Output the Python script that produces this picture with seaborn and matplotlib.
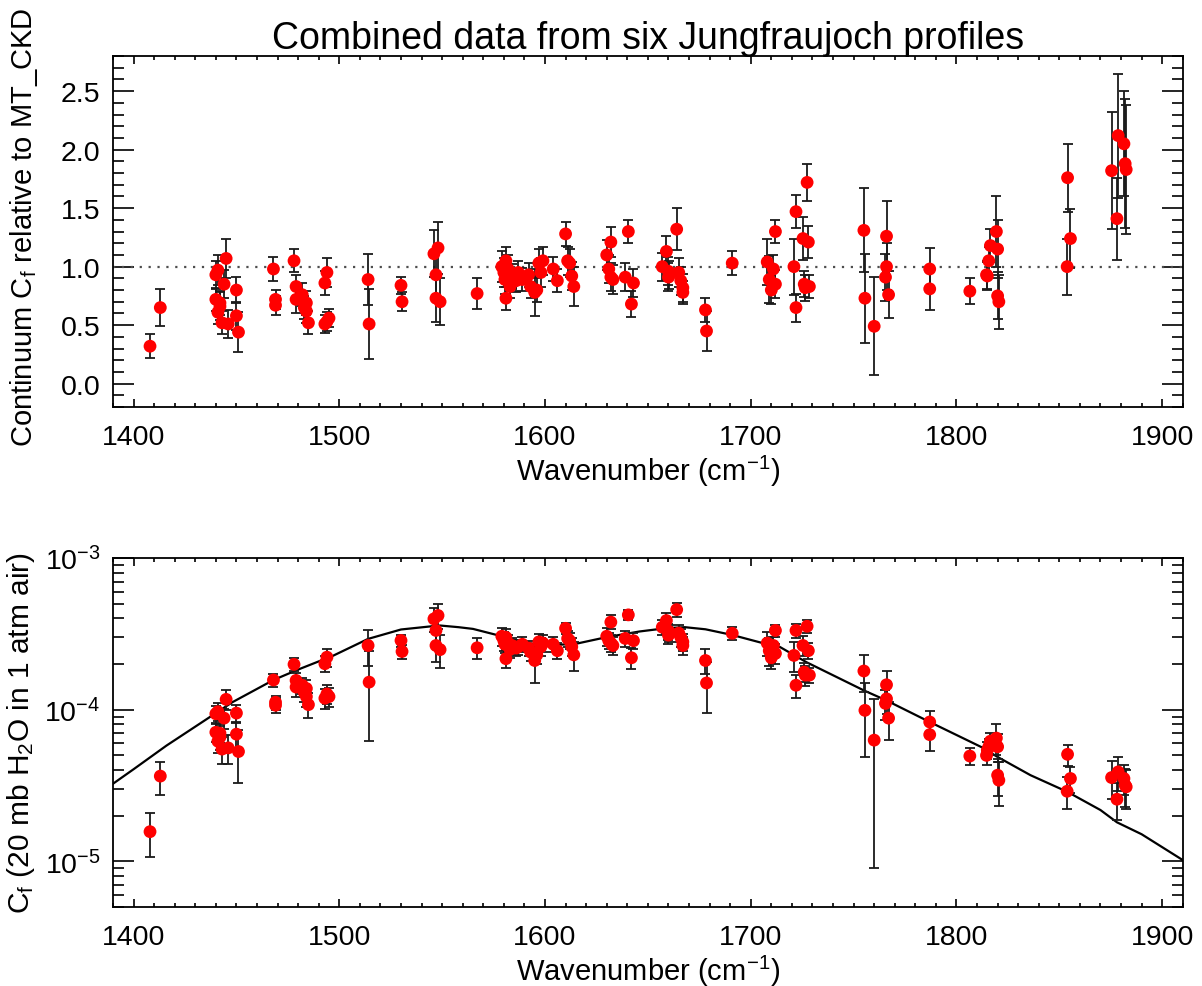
import numpy as np
import pandas as pd
import matplotlib
matplotlib.use("Agg")
import matplotlib.pyplot as plt
import matplotlib.ticker as mticker
import seaborn as sns

# wavenumber of each retrieval (cm-1)
wavenumber = [1408, 1413,
              1440, 1440, 1441, 1441, 1442, 1442, 1443, 1444, 1445, 1446,
              1450, 1450, 1451,
              1468, 1469, 1469,
              1478, 1479, 1479, 1482, 1483, 1484, 1485, 1484,
              1493, 1494, 1493, 1494, 1495,
              1514, 1514.5, 1530, 1530.5,
              1546, 1548, 1547, 1547, 1549, 1567,
              1579, 1580, 1580.5, 1581, 1581, 1582, 1583, 1584, 1586, 1587,
              1589, 1592, 1593, 1595, 1596, 1597, 1598, 1599,
              1604, 1606, 1610, 1611, 1612, 1613, 1614,
              1630, 1631, 1632, 1632, 1633,
              1640.5, 1639, 1642, 1643,
              1657, 1659, 1660, 1660, 1660.5, 1664, 1665, 1666, 1667, 1667,
              1678, 1678.5, 1691,
              1708, 1709, 1710, 1711, 1712, 1712,
              1721, 1722, 1722, 1725.4, 1726, 1726.5, 1727.4, 1728, 1728.5,
              1755, 1755.5, 1760, 1766, 1766, 1765.5, 1767,
              1787, 1787, 1806.5,
              1814.6, 1815, 1815.7, 1816.5, 1819.4, 1820, 1820, 1820.6,
              1854, 1855.4, 1853.8,
              1875.4, 1878, 1878.6, 1881.4, 1882, 1882.5]

# continuum relative to MT_CKD
ratio = [0.32, 0.65,
         0.72, 0.93, 0.97, 0.61, 0.66, 0.69, 0.52, 0.85, 1.07, 0.51,
         0.80, 0.58, 0.44,
         0.98, 0.72, 0.67,
         1.05, 0.83, 0.72, 0.76, 0.65, 0.69, 0.52, 0.62,
         0.86, 0.95, 0.51, 0.53, 0.56,
         0.89, 0.51, 0.84, 0.70,
         1.11, 1.16, 0.93, 0.73, 0.70, 0.77,
         1.00, 0.95, 0.89, 1.05, 0.73, 0.98, 0.83, 0.92, 0.88, 0.95,
         0.89, 0.93, 0.83, 0.78, 0.80, 1.03, 0.95, 1.05,
         0.98, 0.88, 1.28, 1.05, 1.03, 0.92, 0.83,
         1.10, 0.98, 1.21, 0.91, 0.89,
         1.30, 0.91, 0.68, 0.86,
         1.00, 1.13, 0.96, 0.91, 0.93, 1.32, 0.95, 0.88, 0.82, 0.78,
         0.63, 0.45, 1.03,
         1.04, 0.89, 0.80, 0.98, 0.85, 1.30,
         1.00, 1.47, 0.65, 1.24, 0.85, 0.82, 1.72, 1.21, 0.83,
         1.31, 0.73, 0.49, 1.26, 1.00, 0.91, 0.76,
         0.98, 0.81, 0.79,
         0.93, 0.92, 1.05, 1.18, 1.30, 1.15, 0.75, 0.70,
         1.76, 1.24, 1.00,
         1.82, 1.41, 2.12, 2.05, 1.88, 1.83]

ratio_err = [0.10, 0.16,
             0.10, 0.12, 0.13, 0.10, 0.12, 0.10, 0.10, 0.12, 0.17, 0.12,
             0.11, 0.12, 0.17,
             0.10, 0.08, 0.08,
             0.10, 0.10, 0.12, 0.10, 0.10, 0.10, 0.10, 0.10,
             0.10, 0.12, 0.08, 0.08, 0.08,
             0.22, 0.30, 0.07, 0.08,
             0.20, 0.22, 0.20, 0.20, 0.20, 0.13,
             0.13, 0.12, 0.12, 0.12, 0.10, 0.12, 0.10, 0.10, 0.10, 0.10,
             0.10, 0.10, 0.10, 0.20, 0.10, 0.12, 0.12, 0.12,
             0.10, 0.10, 0.10, 0.12, 0.12, 0.12, 0.17,
             0.13, 0.12, 0.13, 0.12, 0.12,
             0.10, 0.12, 0.11, 0.12,
             0.12, 0.13, 0.12, 0.12, 0.12, 0.18, 0.12, 0.12, 0.12, 0.10,
             0.10, 0.17, 0.10,
             0.20, 0.20, 0.12, 0.12, 0.12, 0.10,
             0.24, 0.14, 0.12, 0.18, 0.11, 0.11, 0.16, 0.14, 0.10,
             0.36, 0.38, 0.42, 0.30, 0.20, 0.20, 0.20,
             0.18, 0.18, 0.11,
             0.12, 0.12, 0.12, 0.14, 0.30, 0.25, 0.20, 0.23,
             0.29, 0.25, 0.24,
             0.50, 0.35, 0.53, 0.45, 0.55, 0.55]

# absolute continuum coefficient, in units of 1e-4
cf = [0.157, 0.365,
      0.71, 0.94, 0.97, 0.62, 0.66, 0.70, 0.55, 0.88, 1.17, 0.56,
      0.95, 0.69, 0.53,
      1.57, 1.12, 1.07,
      1.99, 1.56, 1.41, 1.45, 1.30, 1.38, 1.08, 1.22,
      2.01, 2.22, 1.19, 1.27, 1.22,
      2.65, 1.52, 2.86, 2.42,
      3.97, 4.18, 3.33, 2.65, 2.49, 2.56,
      3.05, 2.85, 2.70, 3.00, 2.17, 2.75, 2.50, 2.65, 2.55, 2.60,
      2.70, 2.55, 2.40, 2.11, 2.30, 2.80, 2.60, 2.75,
      2.70, 2.45, 3.44, 2.95, 2.85, 2.60, 2.30,
      3.05, 2.85, 3.78, 2.75, 2.65,
      4.22, 2.95, 2.20, 2.85,
      3.50, 3.87, 3.30, 3.10, 3.20, 4.57, 3.20, 3.00, 2.80, 2.65,
      2.11, 1.50, 3.19,
      2.75, 2.45, 2.20, 2.65, 2.35, 3.33,
      2.28, 3.33, 1.45, 2.65, 1.77, 1.69, 3.55, 2.45, 1.69,
      1.80, 0.99, 0.63, 1.46, 1.18, 1.10, 0.88,
      0.83, 0.685, 0.495,
      0.50, 0.54, 0.57, 0.62, 0.65, 0.57, 0.37, 0.343,
      0.508, 0.352, 0.29,
      0.357, 0.257, 0.389, 0.352, 0.318, 0.31]

cf_err = [0.05, 0.09,
          0.10, 0.12, 0.13, 0.10, 0.12, 0.10, 0.11, 0.13, 0.18, 0.12,
          0.13, 0.14, 0.20,
          0.15, 0.12, 0.12,
          0.19, 0.18, 0.20, 0.18, 0.18, 0.18, 0.20, 0.18,
          0.25, 0.30, 0.18, 0.18, 0.18,
          0.70, 0.90, 0.25, 0.25,
          0.70, 0.80, 0.60, 0.60, 0.60, 0.40,
          0.40, 0.40, 0.35, 0.40, 0.30, 0.35, 0.30, 0.30, 0.30, 0.30,
          0.30, 0.30, 0.30, 0.60, 0.30, 0.35, 0.35, 0.35,
          0.30, 0.30, 0.30, 0.35, 0.35, 0.35, 0.50,
          0.40, 0.35, 0.40, 0.35, 0.35,
          0.30, 0.35, 0.35, 0.35,
          0.40, 0.45, 0.40, 0.40, 0.40, 0.50, 0.40, 0.40, 0.35, 0.35,
          0.40, 0.55, 0.30,
          0.50, 0.50, 0.35, 0.35, 0.35, 0.30,
          0.50, 0.35, 0.25, 0.40, 0.25, 0.25, 0.35, 0.30, 0.20,
          0.50, 0.50, 0.54, 0.35, 0.25, 0.25, 0.25,
          0.15, 0.15, 0.06,
          0.07, 0.07, 0.07, 0.08, 0.15, 0.12, 0.10, 0.11,
          0.08, 0.07, 0.07,
          0.10, 0.07, 0.10, 0.08, 0.09, 0.09]

# MT_CKD reference curve, units of 1e-4
ckd_wn = [1390, 1400, 1416, 1440, 1448, 1468, 1480, 1497, 1514, 1530,
          1545, 1549, 1558, 1565, 1579, 1589, 1600, 1615, 1630, 1646,
          1659, 1668, 1678, 1691, 1708, 1714, 1727, 1755, 1766, 1787,
          1812, 1820, 1836, 1854, 1870, 1878, 1890, 1910]
ckd_cf = [0.325, 0.405, 0.58, 0.95, 1.12, 1.57, 1.84, 2.27, 2.93, 3.38,
          3.55, 3.59, 3.50, 3.41, 3.05, 2.79, 2.65, 2.72, 3.01, 3.28,
          3.45, 3.50, 3.39, 3.11, 2.70, 2.60, 2.06, 1.34, 1.15, 0.83,
          0.568, 0.488, 0.37, 0.287, 0.218, 0.181, 0.151, 0.102]

SCALE = 1e-4

df = pd.DataFrame({"wn": wavenumber, "ratio": ratio, "ratio_err": ratio_err,
                   "cf": np.array(cf) * SCALE, "cf_err": np.array(cf_err) * SCALE})
ckd = pd.DataFrame({"wn": ckd_wn, "cf": np.array(ckd_cf) * SCALE})

sns.set_theme(style="ticks")
plt.rcParams.update({
    "font.family": ["Liberation Sans", "DejaVu Sans"],
    "mathtext.fontset": "custom",
    "mathtext.rm": "Liberation Sans",
    "mathtext.it": "Liberation Sans:italic",
    "mathtext.default": "regular",
    "axes.linewidth": 1.3,
    "axes.edgecolor": "black",
    "text.color": "black",
    "axes.labelcolor": "black",
    "xtick.color": "black",
    "ytick.color": "black",
})

fig = plt.figure(figsize=(12.02, 9.87), dpi=100)
ax1 = fig.add_axes([0.094, 0.5866, 0.890, 0.3556])
ax2 = fig.add_axes([0.094, 0.0800, 0.890, 0.3536])

ebar_kw = dict(fmt="none", ecolor="0.1", elinewidth=1.3, capsize=3.8, capthick=1.3, zorder=2)

# top panel: ratio to MT_CKD
ax1.axhline(1.0, color="0.3", linestyle=(0, (1, 3)), linewidth=1.6, zorder=1)
ax1.errorbar(df["wn"], df["ratio"], yerr=df["ratio_err"], **ebar_kw)
sns.scatterplot(data=df, x="wn", y="ratio", ax=ax1, color="#ff0000", s=85,
                edgecolor="none", zorder=3, legend=False)
ax1.set_xlim(1390, 1910)
ax1.set_ylim(-0.2, 2.8)
ax1.yaxis.set_major_locator(mticker.MultipleLocator(0.5))
ax1.yaxis.set_minor_locator(mticker.MultipleLocator(0.1))
ax1.yaxis.set_major_formatter(mticker.FormatStrFormatter("%.1f"))
ax1.set_ylabel(r"Continuum C$_\mathregular{f}$ relative to MT_CKD", fontsize=21)
ax1.set_title("Combined data from six Jungfraujoch profiles", fontsize=27, pad=5)

# bottom panel: absolute continuum with MT_CKD curve
sns.lineplot(data=ckd, x="wn", y="cf", ax=ax2, color="black", linewidth=1.6, zorder=1)
ax2.errorbar(df["wn"], df["cf"], yerr=df["cf_err"], **ebar_kw)
sns.scatterplot(data=df, x="wn", y="cf", ax=ax2, color="#ff0000", s=85,
                edgecolor="none", zorder=3, legend=False)
ax2.set_yscale("log")
ax2.set_xlim(1390, 1910)
ax2.set_ylim(5e-6, 1e-3)
ax2.yaxis.set_major_locator(mticker.LogLocator(base=10, numticks=10))
ax2.yaxis.set_minor_locator(mticker.LogLocator(base=10, subs=np.arange(2, 10), numticks=10))
ax2.yaxis.set_minor_formatter(mticker.NullFormatter())
ax2.set_ylabel(r"C$_\mathregular{f}$ (20 mb H$_\mathregular{2}$O in 1 atm air)", fontsize=21.5)

for ax in (ax1, ax2):
    ax.xaxis.set_major_locator(mticker.MultipleLocator(100))
    ax.xaxis.set_minor_locator(mticker.MultipleLocator(10))
    ax.set_xlabel(r"Wavenumber (cm$^\mathregular{-1}$)", fontsize=21, labelpad=2)
    ax.tick_params(which="both", direction="in", top=True, right=True,
                   labelsize=20.5, width=1.2, color="black")
    ax.tick_params(axis="x", which="major", length=5.5, pad=12)
    ax.tick_params(axis="x", which="minor", length=2.8)
    ax.tick_params(axis="y", which="major", length=15, pad=9)
    ax.tick_params(axis="y", which="minor", length=8)
    ax.grid(False)

ax1.yaxis.set_label_coords(-0.068, 0.515)
ax2.yaxis.set_label_coords(-0.071, 0.5)

fig.savefig("out.png", dpi=100)
